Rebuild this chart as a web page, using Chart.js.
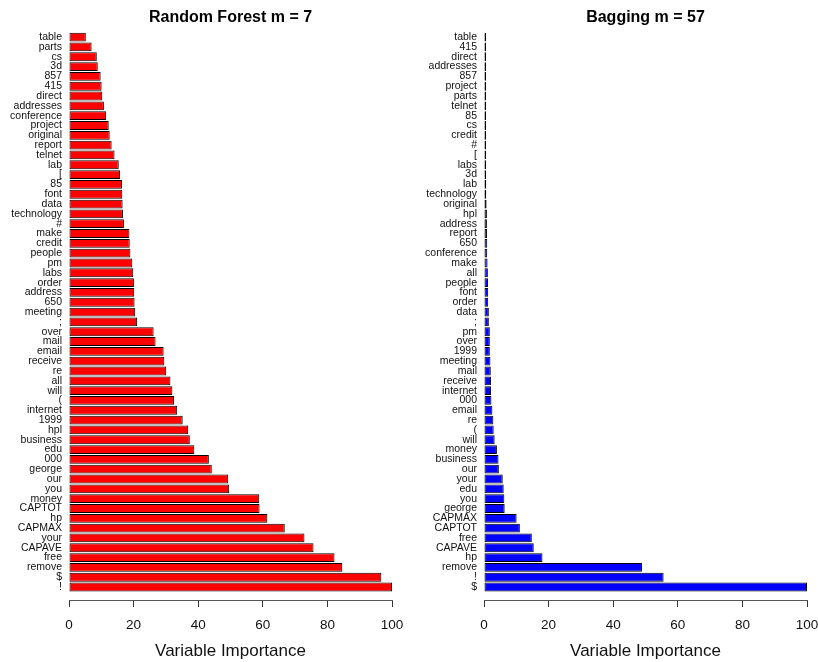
<!DOCTYPE html>
<html lang="en">
<head>
    <meta charset="UTF-8">
    <title>Variable Importance: Random Forest vs Bagging</title>
    <script src="https://cdn.jsdelivr.net/npm/chart.js"></script>
    <style>
        body {
            margin: 0;
            width: 818px;
            height: 662px;
            overflow: hidden;
            background: #ffffff;
            position: relative;
        }

        canvas {
            position: absolute;
            top: 0;
        }

        #rf-chart { left: 0; }
        #bag-chart { left: 409px; }
    </style>
</head>
<body>
    <canvas id="rf-chart" width="461" height="662"></canvas>
    <canvas id="bag-chart" width="473" height="662"></canvas>

    <script>
        // Random forest (m = 7), top to bottom
        const rfLabels = ['table', 'parts', 'cs', '3d', '857', '415', 'direct', 'addresses', 'conference', 'project',
            'original', 'report', 'telnet', 'lab', '[', '85', 'font', 'data', 'technology', '#',
            'make', 'credit', 'people', 'pm', 'labs', 'order', 'address', '650', 'meeting', ';',
            'over', 'mail', 'email', 'receive', 're', 'all', 'will', '(', 'internet', '1999',
            'hpl', 'business', 'edu', '000', 'george', 'our', 'you', 'money', 'CAPTOT', 'hp',
            'CAPMAX', 'your', 'CAPAVE', 'free', 'remove', '$', '!'];
        const rfValues = [5.2, 7.0, 8.6, 8.9, 9.8, 10.1, 10.3, 10.8, 11.5, 12.3,
            12.6, 13.2, 14.1, 15.4, 15.8, 16.4, 16.5, 16.6, 16.7, 17.0,
            18.7, 18.8, 19.0, 19.6, 19.9, 20.1, 20.2, 20.3, 20.5, 21.1,
            26.2, 26.8, 29.3, 29.5, 30.1, 31.4, 32.0, 32.5, 33.5, 35.2,
            36.9, 37.4, 38.8, 43.3, 44.2, 49.3, 49.6, 58.9, 59.0, 61.4,
            66.8, 72.9, 75.7, 82.2, 84.6, 96.7, 100];

        // Bagging (m = 57), top to bottom
        const bagLabels = ['table', '415', 'direct', 'addresses', '857', 'project', 'parts', 'telnet', '85', 'cs',
            'credit', '#', '[', 'labs', '3d', 'lab', 'technology', 'original', 'hpl', 'address',
            'report', '650', 'conference', 'make', 'all', 'people', 'font', 'order', 'data', ';',
            'pm', 'over', '1999', 'meeting', 'mail', 'receive', 'internet', '000', 'email', 're',
            '(', 'will', 'money', 'business', 'our', 'your', 'edu', 'you', 'george', 'CAPMAX',
            'CAPTOT', 'free', 'CAPAVE', 'hp', 'remove', '!', '$'];
        const bagValues = [0.2, 0.2, 0.2, 0.2, 0.2, 0.25, 0.25, 0.3, 0.3, 0.35,
            0.5, 0.5, 0.5, 0.55, 0.6, 0.7, 0.7, 0.8, 0.9, 0.9,
            0.95, 1.0, 1.0, 1.1, 1.2, 1.25, 1.3, 1.3, 1.5, 1.5,
            1.8, 1.8, 1.8, 2.0, 2.1, 2.2, 2.2, 2.3, 2.6, 2.9,
            3.0, 3.3, 4.0, 4.5, 4.6, 5.8, 6.1, 6.3, 6.4, 10.1,
            11.1, 14.8, 15.4, 18.1, 48.9, 55.6, 100];

        const xTicks = [0, 20, 40, 60, 80, 100];
        const fontFamily = '"Liberation Sans", Arial, Helvetica, sans-serif';

        // Build one R-style horizontal barplot
        // sideWidth is used for the label axis and for an empty right axis,
        // so the title ends up centred over the bars
        function makeChart(canvasId, title, labels, values, fill, sideWidth) {
            const ctx = document.getElementById(canvasId).getContext('2d');
            return new Chart(ctx, {
                type: 'bar',
                data: {
                    labels: labels,
                    datasets: [{
                        data: values,
                        backgroundColor: fill,
                        borderColor: '#000000',
                        borderWidth: 1,
                        borderSkipped: false,
                        minBarLength: 2,
                        categoryPercentage: 1,
                        barPercentage: 0.9
                    }]
                },
                options: {
                    indexAxis: 'y',
                    responsive: false,
                    animation: false,
                    layout: { padding: 0 },
                    scales: {
                        x: {
                            min: 0,
                            max: 100,
                            afterBuildTicks: s => { s.ticks = xTicks.map(v => ({ value: v })); },
                            afterFit: s => { s.height = 62; },
                            grid: { drawOnChartArea: false, drawTicks: true, tickLength: 7, color: '#333333' },
                            border: { display: true, color: '#555555', width: 1 },
                            ticks: {
                                padding: 10,
                                color: '#111111',
                                font: { family: fontFamily, size: 13.5 },
                                maxRotation: 0
                            },
                            title: {
                                display: true,
                                text: 'Variable Importance',
                                color: '#111111',
                                font: { family: fontFamily, size: 17 },
                                padding: { top: 0, bottom: 0 }
                            }
                        },
                        y: {
                            offset: true,
                            // leave a gap between the last bar and the x axis, like R's barplot
                            afterBuildTicks: s => { s._valueRange += 0.82; },
                            afterFit: s => { s.width = sideWidth; },
                            grid: { display: false, drawTicks: false },
                            border: { display: false },
                            ticks: {
                                autoSkip: false,
                                padding: 7,
                                color: '#111111',
                                font: { family: fontFamily, size: 10.5 }
                            }
                        },
                        yRight: {
                            type: 'linear',
                            position: 'right',
                            afterFit: s => { s.width = sideWidth; },
                            grid: { display: false, drawTicks: false },
                            border: { display: false },
                            ticks: { display: false }
                        }
                    },
                    plugins: {
                        legend: { display: false },
                        tooltip: { enabled: false },
                        title: {
                            display: true,
                            text: title,
                            color: '#000000',
                            font: { family: fontFamily, size: 16, weight: 'bold' },
                            padding: { top: 8.4, bottom: 4.6 }
                        }
                    }
                }
            });
        }

        makeChart('rf-chart', 'Random Forest m = 7', rfLabels, rfValues, '#ff0000', 69);
        makeChart('bag-chart', 'Bagging m = 57', bagLabels, bagValues, '#0000ff', 75);
    </script>
</body>
</html>
